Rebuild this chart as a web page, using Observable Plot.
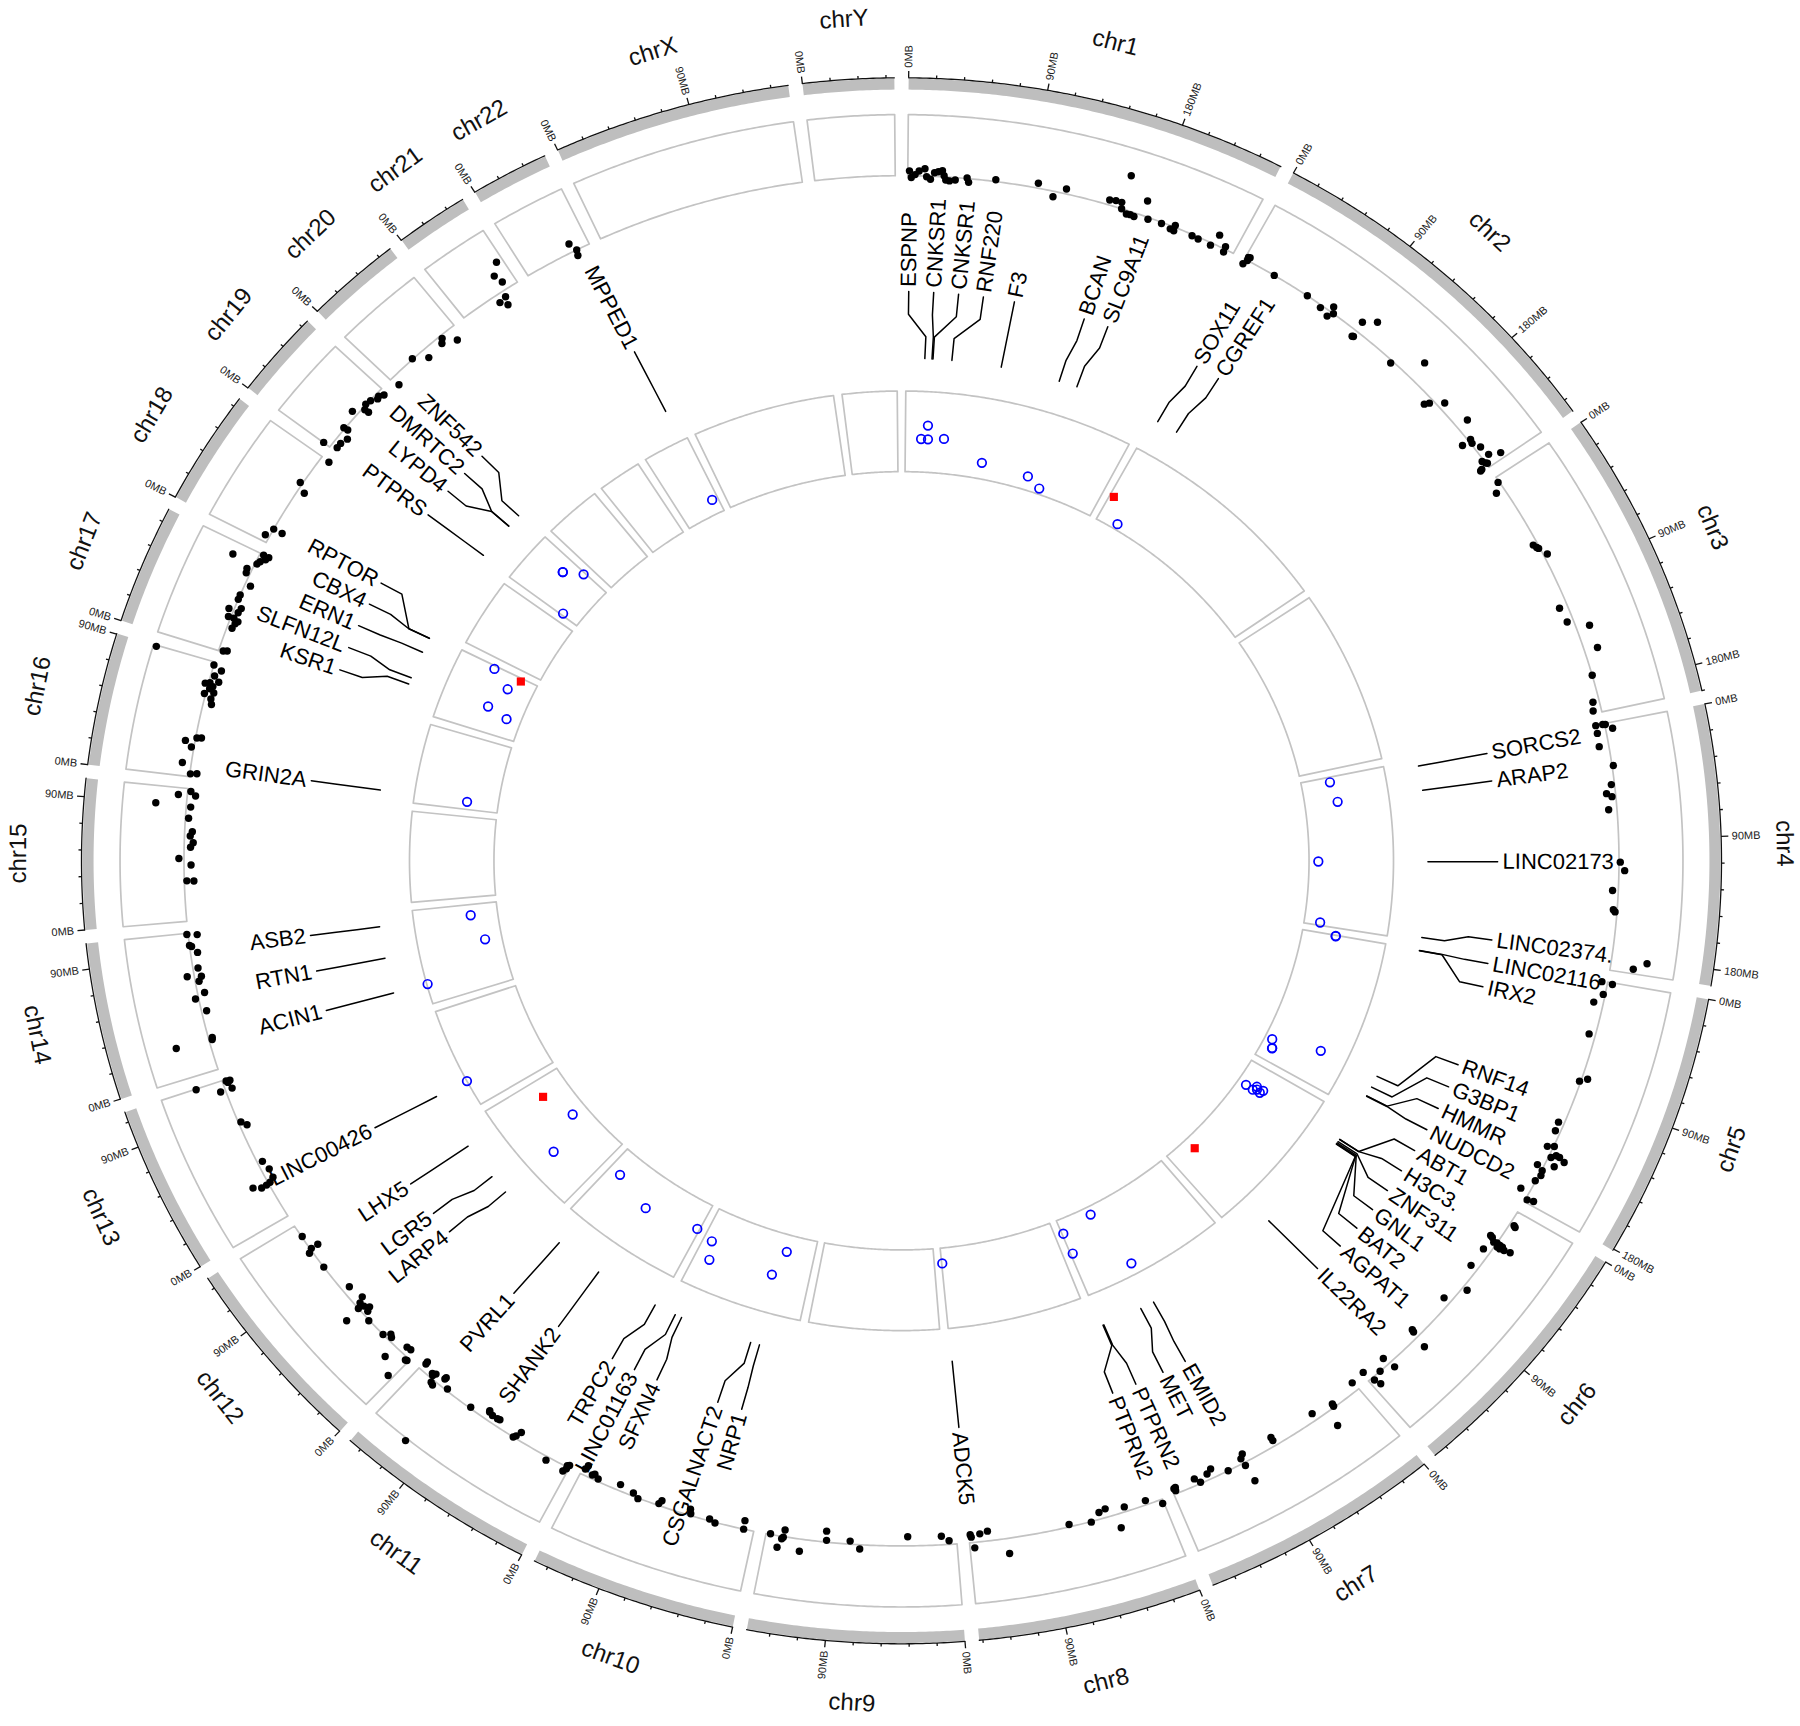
<!DOCTYPE html>
<html><head><meta charset="utf-8">
<script src="https://cdn.jsdelivr.net/npm/d3@7"></script>
<script src="https://cdn.jsdelivr.net/npm/@observablehq/plot@0.6"></script>
<style>body{margin:0;background:#fff} #chart svg{display:block}</style>
</head><body><div id="chart"></div>
<script>
// ---------------- DATA ----------------
const chromosomes = ["chr1","chr2","chr3","chr4","chr5","chr6","chr7","chr8","chr9","chr10","chr11","chr12","chr13","chr14","chr15","chr16","chr17","chr18","chr19","chr20","chr21","chr22","chrX","chrY"];
const chromLengthsMb = [249.25,243.20,198.02,191.15,180.92,171.12,159.14,146.36,141.21,135.53,135.01,133.85,115.17,107.35,102.53,90.35,81.20,78.08,59.13,63.03,48.13,51.30,155.27,59.37];
const majorTickMb = 90;
const minorTicksPerMajor = 5;
const tickLabelSuffix = "MB";

// outer scatter track: [chromosome, position (Mb), value]
const scatterPoints = [
["chr1",1.2,.8],["chr1",2.6,-.3],["chr1",5.4,.2],["chr1",8.3,.8],["chr1",12.5,1.2],["chr1",13.9,-.1],["chr1",16.8,-.5],["chr1",19.6,.6],["chr1",22.4,.8],["chr1",25.3,1.0],["chr1",26.7,.2],["chr1",28.1,-.5],["chr1",30.9,-.6],["chr1",35.1,-.4],["chr1",43.7,.1],["chr1",45.1,-.6],["chr1",64.8,.3],["chr1",96,.8],["chr1",108.6,-.9],["chr1",117,.8],["chr1",149.7,.8],["chr1",154.2,1],["chr1",158.6,1],["chr1",160,0],["chr1",159,5.6],["chr1",164.6,-.6],["chr1",167.5,-.5],["chr1",170.5,-.6],["chr1",176,2.5],["chr1",181,-.3],["chr1",191.5,-.2],["chr1",199,-.5],["chr1",201.5,.3],["chr1",202,-.6],["chr1",215.9,-.2],["chr1",221,-.3],["chr1",231.3,-.4],["chr1",234,1.7],["chr1",241.8,.4],["chr1",242.3,-.5],
["chr2",0.8,-.8],["chr2",2,.5],["chr2",2.5,0],["chr2",3.2,.6],["chr2",25.3,0],["chr2",54.3,0],["chr2",67.4,-.4],["chr2",75.3,-.9],["chr2",77.9,0],["chr2",75,.9],["chr2",98.6,1.7],["chr2",107,3.2],["chr2",99.6,-1.1],["chr2",100.5,-1.0],["chr2",134.7,-.4],["chr2",152.4,3.3],["chr2",175,-1.4],["chr2",177,-.7],["chr2",184.4,1.1],["chr2",204.9,2.0],["chr2",218,-1.2],["chr2",218,.4],["chr2",221,.2],["chr2",227,.9],["chr2",235,1.2],["chr2",239,2.9],["chr2",236.6,-.3],["chr2",239,0],["chr2",240,.2],["chr2",242,-1.4],["chr2",241.5,-1.1],
["chr3",4.2,-.2],["chr3",10.6,-1.4],["chr3",59.2,-.7],["chr3",62,-.4],["chr3",63.3,-.2],["chr3",70,.6],["chr3",112,-1.3],["chr3",124,-1.0],["chr3",132,2.1],["chr3",149.8,2.1],["chr3",169,0],["chr3",189.3,-1],["chr3",196,-1.3],
["chr4",0.3,-1.4],["chr4",0.5,-.3],["chr4",0.8,.1],["chr4",6.5,-1.4],["chr4",4.7,1.1],["chr4",16.9,-1.5],["chr4",33,.2],["chr4",47.4,-.5],["chr4",54,-1.4],["chr4",56.7,-.6],["chr4",66.6,-1.3],["chr4",107.5,.2],["chr4",114,.9],["chr4",129.5,-.9],["chr4",144.4,-.6],["chr4",146,-.3],["chr4",182.3,5.6],["chr4",187.8,3.6],
["chr5",0.5,-.9],["chr5",1.3,.8],["chr5",10,-.3],["chr5",17.3,-1.5],["chr5",42.2,-1],["chr5",79.3,-.2],["chr5",76,.9],["chr5",114.5,-.9],["chr5",121.5,-.8],["chr5",135,-.9],["chr5",133,.1],["chr5",141.7,.4],["chr5",138.8,1],["chr5",139,1.6],["chr5",141,2.6],["chr5",147,1.5],["chr5",151,-1],["chr5",153.6,.1],["chr5",157.4,.3],["chr5",162.8,-.1],["chr5",173,-1.5],["chr5",178.6,.3],["chr5",177.4,1.3],
["chr6",10.4,.7],["chr6",11.2,1],["chr6",26.2,-1.5],["chr6",26.8,-1.1],["chr6",29.2,-.5],["chr6",28.3,0],["chr6",28.7,.6],["chr6",28.9,1.1],["chr6",30.3,1.6],["chr6",30.9,.4],["chr6",31,.9],["chr6",37.8,-1.2],["chr6",29.2,2.6],["chr6",53.6,-1.2],["chr6",70.6,.8],["chr6",85.9,-1.2],["chr6",120.2,-1.4],["chr6",120.8,-1],["chr6",123.4,1.9],["chr6",151.3,-1.2],["chr6",149.6,1],["chr6",159.7,0],["chr6",169.7,-1.6],["chr6",167.3,.5],["chr6",165.7,1.6],
["chr7",0.9,-1.4],["chr7",22.7,-.6],["chr7",23,-.2],["chr7",29.4,2.7],["chr7",39.2,-1.2],["chr7",75.1,-.9],["chr7",75,-1.5],["chr7",100,-1.4],["chr7",102.7,-.8],["chr7",102.2,.5],["chr7",115.3,0],["chr7",101.7,3.4],["chr7",126.3,-1.5],["chr7",130.4,-1],["chr7",140.6,-1.1],["chr7",137.5,-.2],["chr7",156.2,-1],["chr7",156.9,-.5],["chr7",157.5,-.9],
["chr8",1.1,.7],["chr8",12.2,-.7],["chr8",28.6,-.8],["chr8",42.6,-1.4],["chr8",47.8,-1.1],["chr8",35.6,2.3],["chr8",55.3,.1],["chr8",71.6,-.4],["chr8",118.4,2.5],["chr8",132.2,-1.6],["chr8",138.1,-1.3],["chr8",145.3,-1.3],["chr8",144.7,-.9],["chr8",142.9,.9],
["chr9",5.7,-.6],["chr9",11.2,-1.4],["chr9",36.3,-1.5],["chr9",71.5,.7],["chr9",78.9,-.5],["chr9",97,-1.8],["chr9",96.3,-.3],["chr9",115,2],["chr9",127.8,-1.1],["chr9",128.2,.1],["chr9",129.2,.4],["chr9",131.4,1.9],["chr9",137.9,-.1],
["chr10",8.1,-1.4],["chr10",7.6,0],["chr10",29.2,.1],["chr10",33.8,-.3],["chr10",48.3,-.3],["chr10",49.5,-1],["chr10",71.7,-.9],["chr10",73.1,-.3],["chr10",88.9,.1],["chr10",93.6,-.5],["chr10",104.9,-1],["chr10",121.8,-.4],["chr10",125.6,-.9],["chr10",127,-.6],["chr10",133.7,-1],["chr10",132.8,-1.7],
["chr11",0.6,-.4],["chr11",1.5,.3],["chr11",3,.9],["chr11",2,-.2],["chr11",17.8,.6],["chr11",46.2,-.4],["chr11",44.4,-1.3],["chr11",47.6,0],["chr11",65.1,-1.1],["chr11",63.2,-1.2],["chr11",69.6,-1.1],["chr11",73.4,-1.5],["chr11",72.9,-1.3],["chr11",86.4,-.2],["chr11",108.6,-.3],["chr11",107.3,10.4],["chr11",115,-1.3],["chr11",114.9,-1.6],["chr11",119,.7],["chr11",121.1,.5],["chr11",123.7,-.5],["chr11",122.5,-1.0],["chr11",124.8,-.7],["chr11",133.3,-1.2],["chr11",133.6,-1.6],
["chr12",124.1,-.1],["chr12",110.4,.5],["chr12",112.7,-.2],["chr12",112.6,-1.4],["chr12",95.6,0],["chr12",72,-1.2],["chr12",59.8,-1.7],["chr12",57.3,-.8],["chr12",53.6,-.9],["chr12",54.8,0],["chr12",50.3,-1.5],["chr12",48.6,-.8],["chr12",53.3,2.7],["chr12",42.7,.1],["chr12",27.8,0],["chr12",23.9,-.9],["chr12",21.8,-.6],["chr12",14.7,2.3],["chr12",4.9,-1.3],["chr12",2.3,.5],["chr12",3.2,4.2],["chr12",8.3,-1.2],["chr12",1.2,.4],
["chr13",114.7,4.3],["chr13",107.3,.8],["chr13",107.3,-1.1],["chr13",114,-.6],["chr13",113.6,-1.2],["chr13",112.5,-.8],["chr13",80.5,-.4],["chr13",76.7,-1.1],["chr13",46.1,-.8],["chr13",38.6,-1.2],["chr13",31.6,-1.1],["chr13",29.1,-.3],["chr13",28.4,.4],["chr13",28.1,1.3],["chr13",31,2.5],
["chr14",106.5,.2],["chr14",105.6,-1.4],["chr14",97.8,0],["chr14",96.9,-.3],["chr14",91.8,-1.1],["chr14",79.8,-.8],["chr14",74.4,1.1],["chr14",73,-1.1],["chr14",69.5,-.6],["chr14",60.1,-1.1],["chr14",56.5,.5],["chr14",46,-.8],["chr14",24.8,-.6],["chr14",23.6,5.3],["chr14",23.3,-.5],
["chr15",100.5,-.5],["chr15",97.3,-1.3],["chr15",97.3,1.4],["chr15",89.7,4.8],["chr15",88.4,-.7],["chr15",79.7,-.5],["chr15",69.3,-1.2],["chr15",66,-.9],["chr15",60.8,-1.4],["chr15",57.2,-1],["chr15",48.5,.8],["chr15",43.4,-1.1],["chr15",31.2,-.4],["chr15",31,-1.5],
["chr16",2.9,-1.1],["chr16",2.2,-.1],["chr16",89.5,9.5],["chr16",57.9,-1.3],["chr16",69.4,-.4],["chr16",72.8,.5],["chr16",71.7,-.8],["chr16",76.1,-1.5],["chr16",85.1,-1.4],["chr16",88,0],["chr16",30.9,-.9],["chr16",30.3,-.2],["chr16",22.8,.4],["chr16",27,1.5],["chr16",10,1.4],["chr16",62,-1],["chr16",65,.2],["chr16",67,-1.2],["chr16",74,-.2],["chr16",80,-.6],
["chr17",0.8,-.7],["chr17",1.7,-1.3],["chr17",71.9,3.8],["chr17",80.9,-.6],["chr17",78.4,-1.2],["chr17",75.2,-.6],["chr17",72.6,-.3],["chr17",80.9,-1.5],["chr17",66.4,.8],["chr17",63.1,.6],["chr17",55,-.9],["chr17",45.7,0],["chr17",42.1,0],["chr17",36.3,-1],["chr17",32.4,-.8],["chr17",27.4,-.5],["chr17",33.1,.8],["chr17",27.2,.4],["chr17",25.8,-1.3],["chr17",23.6,-1],["chr17",19.6,-.8],
["chr18",5,.7],["chr18",11.8,0],["chr18",11.8,-1.5],["chr18",52.6,.4],["chr18",47.2,-1.1],["chr18",77.5,-1.4],
["chr19",0.2,1.2],["chr19",3,-1],["chr19",7.2,-1],["chr19",12.9,-1.4],["chr19",18.6,-.5],["chr19",18.1,.2],["chr19",31.8,.9],["chr19",42.4,.1],["chr19",46.7,-.1],["chr19",53.4,-.5],["chr19",56.7,-1],["chr19",51.3,-.7],["chr19",39.1,-1.1],["chr19",38.7,-.4],
["chr20",1.9,-1.5],["chr20",23,.1],["chr20",32.6,-1.5],["chr20",49.8,-.5],["chr20",47.2,-1.1],["chr20",57.8,-2.2],
["chr21",43.5,4.5],["chr21",36.5,2.8],["chr21",38.9,1.3],["chr21",34.6,-1],["chr21",32.6,-2.3],["chr21",28.6,-1.3],
["chr22",38,1.4],["chr22",41,0],["chr22",39.8,-.9]
];

// labelled genes: [name, chromosome, position (Mb), inner-track value, marker]
const genes = [
["ESPNP","chr1",18.8,.41,"circle"],["CNKSR1","chr1",26,.58,"circle"],["CNKSR1","chr1",27,.41,"circle"],["RNF220","chr1",46,.43,"circle"],["F3","chr1",96,.2,"circle"],["BCAN","chr1",156,.17,"circle"],["SLC9A11","chr1",174.7,.07,"circle"],
["SOX11","chr2",5.3,.34,"square"],["CGREF1","chr2",27.1,.07,"circle"],
["SORCS2","chr4",6.4,.34,"circle"],["ARAP2","chr4",32.2,.39,"circle"],["LINC02173","chr4",107.4,.11,"circle"],["LINC02374.","chr4",187.3,.19,"circle"],
["LINC02116","chr5",0.8,.4,"circle"],["IRX2","chr5",1.2,.4,"circle"],["RNF14","chr5",140.1,.67,"circle"],["G3BP1","chr5",152.6,.09,"circle"],["HMMR","chr5",163,.14,"circle"],["NUDCD2","chr5",163.4,.14,"circle"],
["ABT1","chr6",26.1,.23,"circle"],["H3C3.","chr6",26.2,.32,"circle"],["ZNF311","chr6",29,.25,"circle"],["GNL1","chr6",30.5,.3,"circle"],["BAT2","chr6",31.6,.11,"circle"],["AGPAT1","chr6",32.1,.21,"circle"],["IL22RA2","chr6",137.5,.15,"square"],
["EMID2","chr7",101.3,.86,"circle"],["MET","chr7",115.7,.1,"circle"],["PTPRN2","chr7",156.6,.45,"circle"],["PTPRN2","chr7",157.5,.18,"circle"],
["ADCK5","chr8",145.6,.19,"circle"],
["NRP1","chr10",34.7,.21,"circle"],["CSGALNACT2","chr10",43.9,.53,"circle"],["SFXN4","chr10",118,.62,"circle"],["LINC01163","chr10",125,.4,"circle"],
["TRPC2","chr11",2.9,.34,"circle"],["SHANK2","chr11",69.3,.44,"circle"],["PVRL1","chr11",119.4,.3,"circle"],
["LARP4","chr12",51,.65,"circle"],["LGR5","chr12",72,.18,"circle"],["LHX5","chr12",112,.33,"square"],
["LINC00426","chr13",30,1.0,"circle"],
["ACIN1","chr14",22.9,.99,"circle"],["RTN1","chr14",60.4,.2,"circle"],["ASB2","chr14",93.8,.32,"circle"],
["GRIN2A","chr16",9.5,.37,"circle"],
["KSR1","chr17",25.1,.17,"circle"],["SLFN12L","chr17",32.1,.43,"circle"],["ERN1","chr17",61.3,.3,"circle"],["CBX4","chr17",77.3,.2,"square"],["RPTOR","chr17",77.5,.55,"circle"],
["PTPRS","chr19",2.5,.22,"circle"],["LYPD4","chr19",42.3,.55,"circle"],["DMRTC2","chr19",42.4,.55,"circle"],["ZNF542","chr19",57,.35,"circle"],
["MPPED1","chr22",43.8,.18,"circle"]
];

// ---------------- LAYOUT ----------------
const W = 1800, H = 1726;
const CX = 901, CY = 860.3, RX = 820, RY = 783;
const GAP = 1, START = 0.5;
const FONT = "Liberation Sans, Arial, Helvetica, sans-serif";
const R = {
  axis: 1.0, band: 0.992, bandW: 11, majorTick: 0.0088, minorTick: 0.0038,
  tickLabel: 1.013, chrLabel: 1.077,
  scatIn: 0.875, scatOut: 0.953, scatUnit: 0.0078,
  innIn: 0.497, innOut: 0.600,
  conn: [0.727, 0.698, 0.670, 0.642], geneLabel: 0.733
};
const LABEL_SEP = 2.4;     // minimal angular distance between labels (deg)
const GROUP_SHIFT = 0.6;   // clockwise drift of spread-out label groups (deg)

const total = d3.sum(chromLengthsMb);
const degPerMb = (360 - GAP * chromosomes.length) / total;
const cum = d3.cumsum([0, ...chromLengthsMb]);
const startDeg = chromosomes.map((c, i) => START + cum[i] * degPerMb + i * GAP);
const endDeg = chromosomes.map((c, i) => startDeg[i] + chromLengthsMb[i] * degPerMb);
const chrIndex = new Map(chromosomes.map((c, i) => [c, i]));
const angleOf = (chr, mb) => startDeg[chrIndex.get(chr)] + mb * degPerMb;
const rad = (a) => a * Math.PI / 180;
const px = (a, r) => r * Math.sin(rad(a));
const py = (a, r) => r * Math.cos(rad(a));
const screenDeg = (a) => Math.atan2(-RY * Math.cos(rad(a)), RX * Math.sin(rad(a))) * 180 / Math.PI;
const norm = (a) => ((a % 360) + 360) % 360;

function arcPts(a0, a1, r, step = 0.25) {
  const n = Math.max(2, Math.ceil(Math.abs(a1 - a0) / step));
  return d3.range(n + 1).map(k => { const a = a0 + (a1 - a0) * k / n; return {x: px(a, r), y: py(a, r)}; });
}
function sectorPts(i, rIn, rOut, id) {
  const pts = [...arcPts(startDeg[i], endDeg[i], rOut), ...arcPts(endDeg[i], startDeg[i], rIn)];
  pts.push(pts[0]);
  return pts.map(p => ({...p, id}));
}

const boxes = chromosomes.flatMap((c, i) => [
  ...sectorPts(i, R.scatIn, R.scatOut, c + "-s"),
  ...sectorPts(i, R.innIn, R.innOut, c + "-i")
]);
const bandArcs = chromosomes.flatMap((c, i) => arcPts(startDeg[i], endDeg[i], R.band).map(p => ({...p, id: c})));
const axisArcs = chromosomes.flatMap((c, i) => arcPts(startDeg[i], endDeg[i], R.axis).map(p => ({...p, id: c})));

const ticks = [], tickLabels = [];
chromosomes.forEach((c, i) => {
  const step = majorTickMb / minorTicksPerMajor;
  for (let k = 0; k * step <= chromLengthsMb[i] + 1e-9; k++) {
    const mb = k * step, a = angleOf(c, mb), major = k % minorTicksPerMajor === 0;
    const len = major ? R.majorTick : R.minorTick;
    ticks.push({x1: px(a, R.axis), y1: py(a, R.axis), x2: px(a, R.axis + len), y2: py(a, R.axis + len)});
    if (major) tickLabels.push({a, x: px(a, R.tickLabel), y: py(a, R.tickLabel), text: mb + tickLabelSuffix});
  }
});
const chrLabels = chromosomes.map((c, i) => {
  const a = (startDeg[i] + endDeg[i]) / 2, s = screenDeg(a);
  const lower = norm(a) > 90 && norm(a) < 270;
  return {x: px(a, R.chrLabel), y: py(a, R.chrLabel), text: c, rot: lower ? s - 90 : s + 90};
});

const scat = scatterPoints.map(([c, mb, v]) => {
  const a = angleOf(c, mb), r = R.scatIn + v * R.scatUnit;
  return {x: px(a, r), y: py(a, r)};
});

// gene label layout: spread overlapping labels evenly around the mean position
const gl = genes.map(([name, c, mb, v, marker]) => ({name, a: angleOf(c, mb), v, marker}))
  .sort((p, q) => p.a - q.a);
let groups = gl.map(g => ({n: 1, sum: g.a}));
for (let changed = true; changed;) {
  changed = false;
  for (let i = 0; i < groups.length - 1; i++) {
    const g = groups[i], h = groups[i + 1];
    const gEnd = g.sum / g.n + (g.n > 1 ? GROUP_SHIFT : 0) + (g.n - 1) / 2 * LABEL_SEP;
    const hStart = h.sum / h.n + (h.n > 1 ? GROUP_SHIFT : 0) - (h.n - 1) / 2 * LABEL_SEP;
    if (hStart - gEnd < LABEL_SEP) { groups.splice(i, 2, {n: g.n + h.n, sum: g.sum + h.sum}); changed = true; break; }
  }
}
let gi = 0;
groups.forEach(g => {
  const m = g.sum / g.n + (g.n > 1 ? GROUP_SHIFT : 0);
  for (let k = 0; k < g.n; k++) gl[gi++].la = m + (k - (g.n - 1) / 2) * LABEL_SEP;
});

const connectors = gl.flatMap((g, i) => [
  {x: px(g.la, R.conn[0]), y: py(g.la, R.conn[0]), id: i},
  {x: px(g.la, R.conn[1]), y: py(g.la, R.conn[1]), id: i},
  {x: px(g.a, R.conn[2]), y: py(g.a, R.conn[2]), id: i},
  {x: px(g.a, R.conn[3]), y: py(g.a, R.conn[3]), id: i}
]);
const geneText = gl.map(g => {
  const s = screenDeg(g.la), left = norm(g.la) > 180;
  return {x: px(g.la, R.geneLabel), y: py(g.la, R.geneLabel), text: g.name, rot: left ? s + 180 : s, left};
});
const innerPts = gl.map(g => {
  const r = R.innIn + g.v * (R.innOut - R.innIn);
  return {x: px(g.a, r), y: py(g.a, r), marker: g.marker};
});
const tickText = tickLabels.map(t => {
  const s = screenDeg(t.a), left = norm(t.a) > 180;
  return {...t, rot: left ? s + 180 : s, left};
});

const chart = Plot.plot({
  width: W, height: H, margin: 0,
  style: {background: "#fff"},
  x: {type: "linear", domain: [-CX / RX, (W - CX) / RX], range: [0, W], axis: null},
  y: {type: "linear", domain: [-(H - CY) / RY, CY / RY], range: [H, 0], axis: null},
  marks: [
    Plot.line(boxes, {x: "x", y: "y", z: "id", stroke: "#c3c3c3", strokeWidth: 1.7, curve: "linear"}),
    Plot.line(bandArcs, {x: "x", y: "y", z: "id", stroke: "#bebebe", strokeWidth: R.bandW, strokeLinecap: "butt", curve: "linear"}),
    Plot.line(axisArcs, {x: "x", y: "y", z: "id", stroke: "#111", strokeWidth: 1.3, curve: "linear"}),
    Plot.link(ticks, {x1: "x1", y1: "y1", x2: "x2", y2: "y2", stroke: "#111", strokeWidth: 1.3}),
    Plot.text(tickText.filter(d => !d.left), {x: "x", y: "y", text: "text", rotate: "rot", textAnchor: "start", fontSize: 11, fontFamily: FONT, fill: "#222"}),
    Plot.text(tickText.filter(d => d.left), {x: "x", y: "y", text: "text", rotate: "rot", textAnchor: "end", fontSize: 11, fontFamily: FONT, fill: "#222"}),
    Plot.text(chrLabels, {x: "x", y: "y", text: "text", rotate: "rot", textAnchor: "middle", fontSize: 24, fontFamily: FONT, fill: "#111"}),
    Plot.dot(scat, {x: "x", y: "y", r: 3.7, fill: "#000", stroke: "none"}),
    Plot.line(connectors, {x: "x", y: "y", z: "id", stroke: "#000", strokeWidth: 1.5, curve: "linear"}),
    Plot.text(geneText.filter(d => !d.left), {x: "x", y: "y", text: "text", rotate: "rot", textAnchor: "start", fontSize: 22, fontFamily: FONT, fill: "#000"}),
    Plot.text(geneText.filter(d => d.left), {x: "x", y: "y", text: "text", rotate: "rot", textAnchor: "end", fontSize: 22, fontFamily: FONT, fill: "#000"}),
    Plot.dot(innerPts.filter(d => d.marker === "circle"), {x: "x", y: "y", r: 4.3, fill: "none", stroke: "#0000ff", strokeWidth: 1.7}),
    Plot.dot(innerPts.filter(d => d.marker === "square"), {x: "x", y: "y", r: 4.6, symbol: "square", fill: "#ff0000", stroke: "none"})
  ]
});
document.getElementById("chart").appendChild(chart);
</script>
</body></html>
